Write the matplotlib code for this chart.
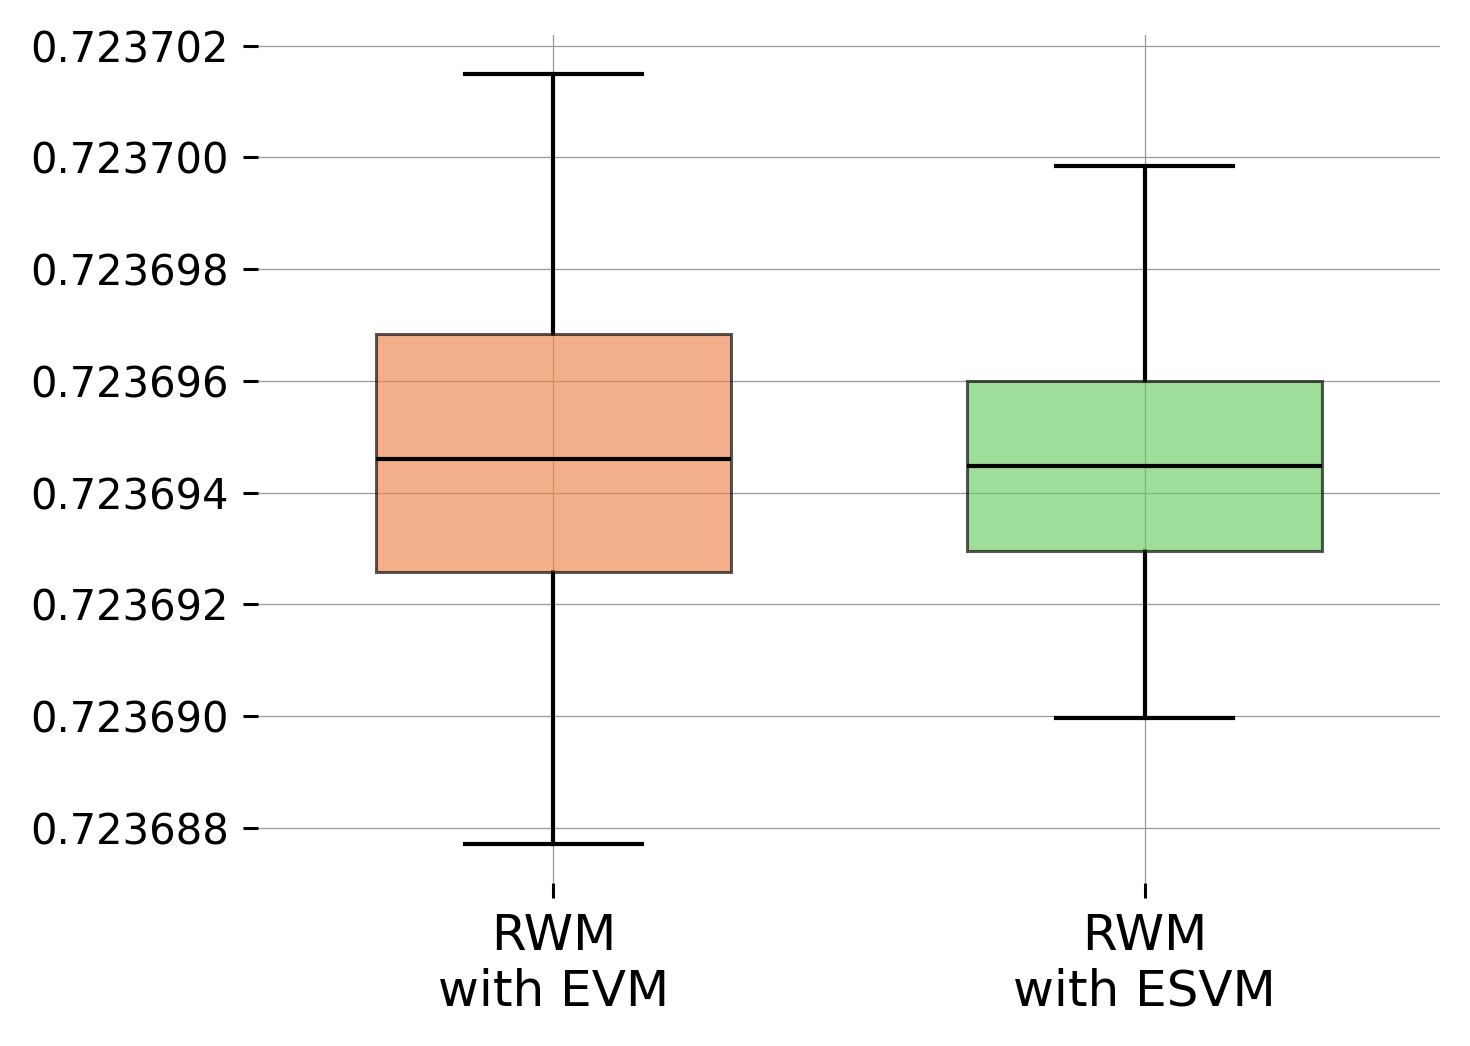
import matplotlib
matplotlib.use("Agg")
import matplotlib.pyplot as plt

labels = ["RWM\nwith EVM", "RWM\nwith ESVM"]
whislo = [0.7236877, 0.72368997]
q1 = [0.72369258, 0.72369295]
med = [0.7236946, 0.72369447]
q3 = [0.72369683, 0.72369599]
whishi = [0.7237015, 0.72369985]
colors = ["#EE854A", "#6ACC64"]

stats = []
for i in range(len(labels)):
    stats.append(dict(label=labels[i], whislo=whislo[i], q1=q1[i], med=med[i],
                      q3=q3[i], whishi=whishi[i], fliers=[]))

fig = plt.figure(figsize=(7.35, 5.23), dpi=200)
ax = fig.add_axes([0.1755, 0.1558, 0.8041, 0.8107])

bp = ax.bxp(stats, positions=[1, 2], widths=0.6, patch_artist=True,
            showfliers=False,
            boxprops=dict(linewidth=1.1),
            whiskerprops=dict(color="black", linewidth=1.5),
            capprops=dict(color="black", linewidth=1.5),
            medianprops=dict(color="black", linewidth=1.5))
for patch, c in zip(bp["boxes"], colors):
    patch.set_facecolor(c)
    patch.set_edgecolor("black")
    patch.set_alpha(0.65)
    patch.set_zorder(3)
for m in bp["medians"]:
    m.set_zorder(4)

ax.set_xlim(0.5, 2.5)
ax.set_yticks([0.723688, 0.723690, 0.723692, 0.723694, 0.723696, 0.723698, 0.723700, 0.723702])
ax.yaxis.set_major_formatter(matplotlib.ticker.FormatStrFormatter("%.6f"))

for s in ax.spines.values():
    s.set_visible(False)
ax.grid(True, color="#999999", linewidth=0.45)
ax.set_axisbelow(True)
ax.tick_params(axis="y", labelsize=15, length=5.5, width=1.1, pad=5)
ax.tick_params(axis="x", labelsize=18, length=5.5, width=1.1, pad=5)

fig.savefig("out.png", dpi=200)
